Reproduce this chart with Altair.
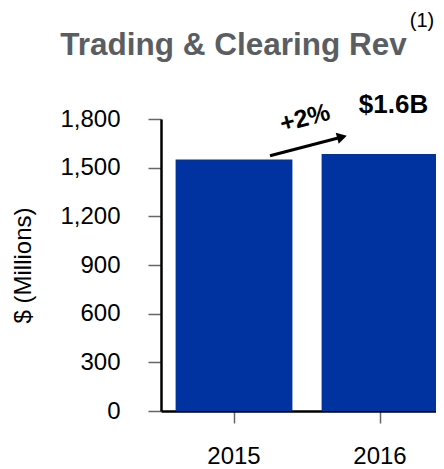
import altair as alt
import pandas as pd

years = ["2015", "2016"]
revenue = [1550, 1585]
y_ticks = [0, 300, 600, 900, 1200, 1500, 1800]
growth_label = "+2%"
total_label = "$1.6B"
title_text = "Trading & Clearing Rev"
footnote = "(1)"

FONT = "Liberation Sans"
BLUE = "#0033A0"

df = pd.DataFrame({"year": years, "rev": revenue})

x_enc = alt.X(
    "year:N",
    sort=years,
    scale=alt.Scale(paddingInner=0.2, paddingOuter=0.1, range=[0, 292]),
    axis=alt.Axis(
        title=None, labelAngle=0, labelFontSize=24, labelColor="black",
        labelFont=FONT, tickSize=12, tickColor="#666666", tickWidth=1.5,
        domainColor="black", domainWidth=2.5, labelPadding=21, grid=False,
    ),
)
y_enc = alt.Y(
    "rev:Q",
    scale=alt.Scale(domain=[0, 1800], nice=False),
    axis=alt.Axis(
        values=y_ticks, format=",d", title="$ (Millions)", titleFontSize=24,
        titleFontWeight="normal", titleColor="black", titleFont=FONT,
        titlePadding=24, labelFontSize=24, labelColor="black", labelFont=FONT,
        tickSize=13, tickColor="#666666", tickWidth=1.5, labelPadding=28,
        domainColor="black", domainWidth=2.5, grid=False,
    ),
)

base = alt.Chart(df)

bars = base.mark_bar(color=BLUE).encode(x=x_enc, y=y_enc)

total = base.transform_filter(alt.datum.year == "2016").mark_text(
    text=total_label, font=FONT, fontSize=26, fontWeight="bold",
    color="black", dx=13.5, dy=-41, baseline="alphabetic", align="center",
).encode(x=alt.X("year:N", sort=years), y="rev:Q")

one = df.head(1)

arrow_line = alt.Chart(one).mark_rule(color="black", strokeWidth=3).encode(
    x=alt.value(109), y=alt.value(36.7), x2=alt.value(181), y2=alt.value(18)
)
arrow_head = alt.Chart(one).mark_point(
    shape="triangle-right", filled=True, color="black", size=130, angle=345, opacity=1
).encode(x=alt.value(181), y=alt.value(18))

growth = alt.Chart(one).mark_text(
    text=growth_label, font=FONT, fontSize=25, fontWeight="bold",
    color="black", angle=345, align="center", baseline="middle",
).encode(x=alt.value(144), y=alt.value(-1))

title = alt.Chart(one).mark_text(
    text=title_text, font=FONT, fontSize=31.5, fontWeight="bold",
    color="#5A5D62", align="center", baseline="alphabetic",
).encode(x=alt.value(72.5), y=alt.value(-64.3))

note = alt.Chart(one).mark_text(
    text=footnote, font=FONT, fontSize=20, color="black",
    align="center", baseline="alphabetic",
).encode(x=alt.value(261), y=alt.value(-92))

chart = alt.layer(bars, total, arrow_line, arrow_head, growth, title, note).properties(
    width=275,
    height=292,
    autosize=alt.AutoSizeParams(type="none"),
    padding={"left": 153, "top": 111, "right": 0, "bottom": 62},
).configure_view(stroke=None)

chart.save("out.html", embed_options={"renderer": "svg", "actions": False})
